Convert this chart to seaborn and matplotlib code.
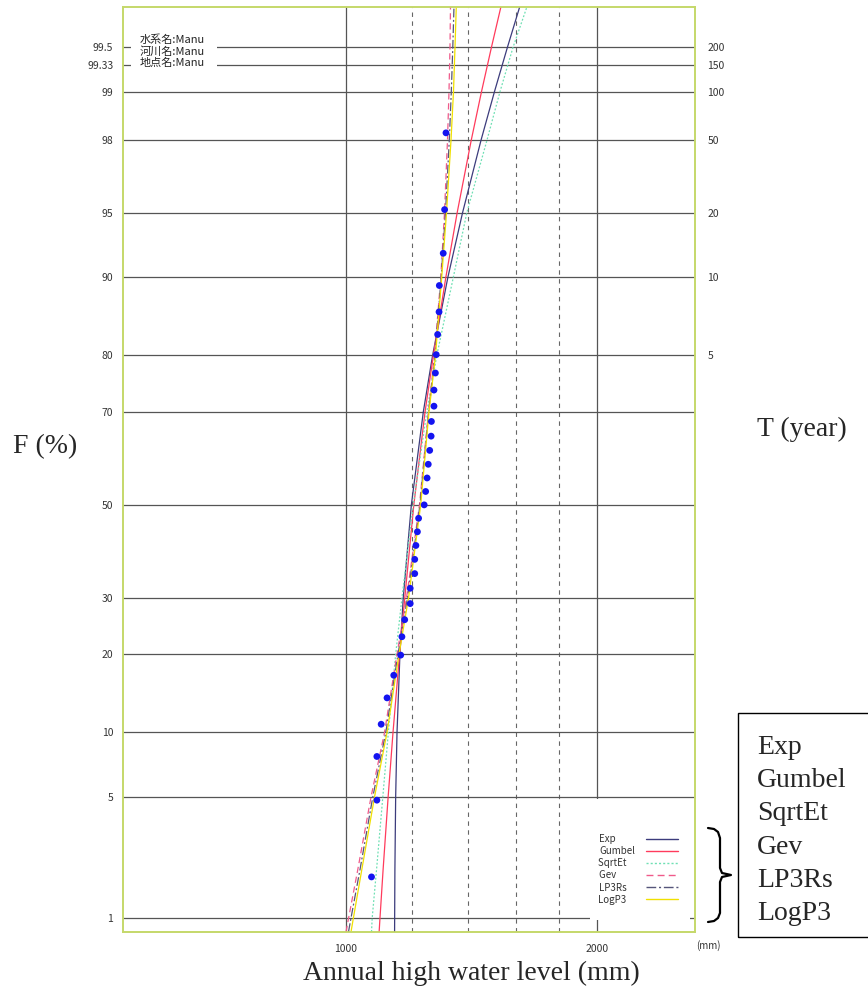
import numpy as np
import pandas as pd
import matplotlib
matplotlib.use("Agg")
import matplotlib.pyplot as plt
import seaborn as sns
from statistics import NormalDist
from matplotlib.ticker import FixedLocator, NullFormatter
from matplotlib.patches import Rectangle
from matplotlib.lines import Line2D

# ---------------- data ----------------
obs_level = [1073, 1089, 1089, 1102, 1120, 1141, 1163, 1167, 1176, 1194, 1194,
             1209, 1209, 1213, 1218, 1222, 1241, 1246, 1251, 1255, 1260, 1265,
             1266, 1275, 1275, 1280, 1283, 1288, 1293, 1294, 1308, 1313, 1318]
obs_F = [1.81, 4.82, 7.83, 10.84, 13.86, 16.87, 19.88, 22.89, 25.90, 28.92, 31.93,
         34.94, 37.95, 40.96, 43.98, 46.99, 50.00, 53.01, 56.02, 59.04, 62.05, 65.06,
         68.07, 71.08, 74.10, 77.11, 80.12, 83.13, 86.14, 89.16, 92.17, 95.18, 98.19]

curve_F = [0.81, 1, 2, 5, 10, 20, 30, 50, 70, 80, 90, 95, 98, 99, 99.5, 99.75]
exp_level = [1143.6, 1143.8, 1144.6, 1147.0, 1151.3, 1160.6, 1171.2, 1197.8,
             1238.1, 1270.1, 1324.9, 1379.7, 1452.0, 1506.8, 1561.6, 1616.3]
gumbel_level = [1095.8, 1098.4, 1107.9, 1123.4, 1138.6, 1159.4, 1176.2, 1206.0,
                1244.0, 1273.0, 1317.5, 1359.3, 1413.3, 1453.8, 1494.2, 1534.4]
sqrtet_level = [1073, 1075, 1088, 1107, 1124, 1147, 1167, 1204,
                1250, 1285, 1345, 1396, 1476, 1530, 1586, 1649]
gev_level = [1000.0, 1007.2, 1033.1, 1071.5, 1112.2, 1151.2, 1181.8, 1225.0,
             1255.9, 1276.9, 1299.3, 1312.6, 1323.5, 1329.0, 1332.7, 1334.5]
lp3rs_level = [1006.9, 1013.9, 1039.4, 1076.8, 1116.2, 1154.4, 1185.1, 1226.7,
               1256.6, 1278.6, 1300.7, 1316.2, 1330.1, 1337.5, 1343.0, 1347.5]
logp3_level = [1013.9, 1020.6, 1044.6, 1081.9, 1119.9, 1157.6, 1188.4, 1229.1,
               1257.6, 1280.4, 1302.5, 1319.9, 1336.4, 1345.6, 1351.2, 1356.1]

models = ["Exp", "Gumbel", "SqrtEt", "Gev", "LP3Rs", "LogP3"]
model_levels = [exp_level, gumbel_level, sqrtet_level, gev_level, lp3rs_level, logp3_level]
model_colors = ["#3c3c7c", "#ff3b5c", "#6fe0b4", "#f05a8a", "#55557a", "#f0e000"]
model_styles = ["-", "-", (0, (1.5, 1.5)), (0, (5, 3)), (0, (7, 2, 1.5, 2)), "-"]

F_ticks = [1, 5, 10, 20, 30, 50, 70, 80, 90, 95, 98, 99, 99.333, 99.5]
F_labels = ["1", "5", "10", "20", "30", "50", "70", "80", "90", "95", "98", "99", "99.33", "99.5"]
T_pos = [80, 90, 95, 98, 99, 99.333, 99.5]
T_labels = ["5", "10", "20", "50", "100", "150", "200"]
x_major = [1000, 2000]
x_minor = [1200, 1400, 1600, 1800]
info_lines = ["水系名:Manu", "河川名:Manu", "地点名:Manu"]

obs_df = pd.DataFrame({"level": obs_level, "F": obs_F})
curve_df = pd.concat([pd.DataFrame({"level": lv, "F": curve_F, "model": m})
                      for m, lv in zip(models, model_levels)], ignore_index=True)

# ---------------- normal probability scale ----------------
_nd = NormalDist()
_ppf = np.vectorize(_nd.inv_cdf, otypes=[float])
_cdf = np.vectorize(_nd.cdf, otypes=[float])


def fwd(p):
    p = np.asarray(p, dtype=float)
    q = np.clip(p / 100.0, 1e-9, 1 - 1e-9)
    return _ppf(q)


def inv(z):
    return _cdf(np.asarray(z, dtype=float)) * 100.0


sns.set_style("white")
plt.rcParams["font.family"] = ["Noto Sans CJK JP", "DejaVu Sans"]

W, H = 868, 994
fig = plt.figure(figsize=(W / 100, H / 100), dpi=100)
ax = fig.add_axes([123 / W, 1 - 932 / H, 572 / W, 925 / H])
ax.set_xscale("log")
ax.set_yscale("function", functions=(fwd, inv))

frame_col = "#c5d86a"
grid_col = "#555555"

for m, c, ls in zip(models, model_colors, model_styles):
    sub = curve_df[curve_df["model"] == m]
    sns.lineplot(data=sub, x="level", y="F", sort=False, estimator=None,
                 color=c, linestyle=ls, linewidth=0.9, ax=ax, zorder=3)

sns.scatterplot(data=obs_df, x="level", y="F", color="#1414f0", s=24,
                edgecolor="none", ax=ax, zorder=4)

ax.set_xlim(540.2, 2621.6)
ax.set_ylim(0.809, 99.747)
ax.set_xlabel("")
ax.set_ylabel("")

ax.xaxis.set_major_locator(FixedLocator(x_major))
ax.set_xticklabels([str(v) for v in x_major])
ax.xaxis.set_minor_locator(FixedLocator(x_minor))
ax.xaxis.set_minor_formatter(NullFormatter())
ax.set_yticks(F_ticks)
ax.set_yticklabels(F_labels)
ax.yaxis.set_minor_locator(FixedLocator([]))
ax.tick_params(axis="both", which="both", length=0, labelsize=7.5, colors="#333333")
ax.tick_params(axis="y", pad=7)
ax.tick_params(axis="x", pad=9)

ax.set_axisbelow(True)
ax.grid(axis="y", which="major", color=grid_col, linewidth=0.9)
ax.grid(axis="x", which="major", color=grid_col, linewidth=0.9)
ax.grid(axis="x", which="minor", color="#666666", linewidth=0.8, linestyle=(0, (4, 4)))

for sp in ax.spines.values():
    sp.set_color(frame_col)
    sp.set_linewidth(1.2)

ax2 = ax.twinx()
ax2.set_yscale("function", functions=(fwd, inv))
ax2.set_ylim(ax.get_ylim())
ax2.set_yticks(T_pos)
ax2.set_yticklabels(T_labels)
ax2.yaxis.set_minor_locator(FixedLocator([]))
ax2.tick_params(axis="y", length=0, pad=9, labelsize=7.5, colors="#333333")
ax2.grid(False)
for sp in ax2.spines.values():
    sp.set_color(frame_col)
    sp.set_linewidth(1.2)

# white boxes covering grid lines (info text and legend)
ax.add_patch(Rectangle((0.014, 0.9319), 0.1503, 0.0411, transform=ax.transAxes,
                       facecolor="white", edgecolor="none", zorder=1.5))
ax.add_patch(Rectangle((0.8164, 0.013), 0.1749, 0.1308, transform=ax.transAxes,
                       facecolor="white", edgecolor="none", zorder=1.5))

for txt, yy in zip(info_lines, [39.3, 51.7, 63.3]):
    ax.text((140 - 123) / 572, (932 - yy) / 925, txt, transform=ax.transAxes,
            fontsize=8, va="center", ha="left", color="#222222", zorder=5)

# legend inside the plot
pads = [9, 0, 4, 9, 4, 4]
handles = [Line2D([], [], color=c, linestyle=ls, linewidth=1.0)
           for c, ls in zip(model_colors, model_styles)]
labels = [m + " " * p for m, p in zip(models, pads)]
leg = ax.legend(handles, labels, loc="upper left",
                bbox_to_anchor=((598 - 123) / 572, (932 - 834) / 925),
                frameon=False, fontsize=7, markerfirst=False, handlelength=3.3,
                handletextpad=1.1, labelspacing=0.22, borderpad=0, borderaxespad=0)
for t in leg.get_texts():
    t.set_color("#333333")
leg.set_zorder(6)

fig.text(696 / W, 1 - 946 / H, "(mm)", fontsize=7, va="center", ha="left", color="#333333")

serif = ["Liberation Serif", "DejaVu Serif"]
fig.text(13 / W, 1 - 453 / H, "F (%)", fontsize=20, family=serif, ha="left", va="baseline")
fig.text(757 / W, 1 - 436 / H, "T (year)", fontsize=20, family=serif, ha="left", va="baseline")
fig.text(303 / W, 1 - 980 / H, "Annual high water level (mm)", fontsize=20, family=serif,
         ha="left", va="baseline")

# outer legend box
fig.add_artist(Rectangle((738 / W, 1 - 937 / H), 0.3, (937 - 713) / H,
                         transform=fig.transFigure, fill=False, edgecolor="black",
                         linewidth=1.0, clip_on=False))
for m, yb in zip(models, [753.5, 787, 820, 853.5, 887, 920]):
    fig.text(757 / W, 1 - yb / H, m, fontsize=20, family=serif, ha="left", va="baseline")

bx = [708, 714, 718, 720, 720, 722, 731, 722, 720, 720, 718, 714, 708]
by = [828, 829, 832, 838, 868, 873, 875, 877, 882, 913, 918, 921, 922]
fig.add_artist(Line2D([v / W for v in bx], [1 - v / H for v in by],
                      transform=fig.transFigure, color="black", linewidth=1.6))

fig.savefig("out.png", dpi=100)
